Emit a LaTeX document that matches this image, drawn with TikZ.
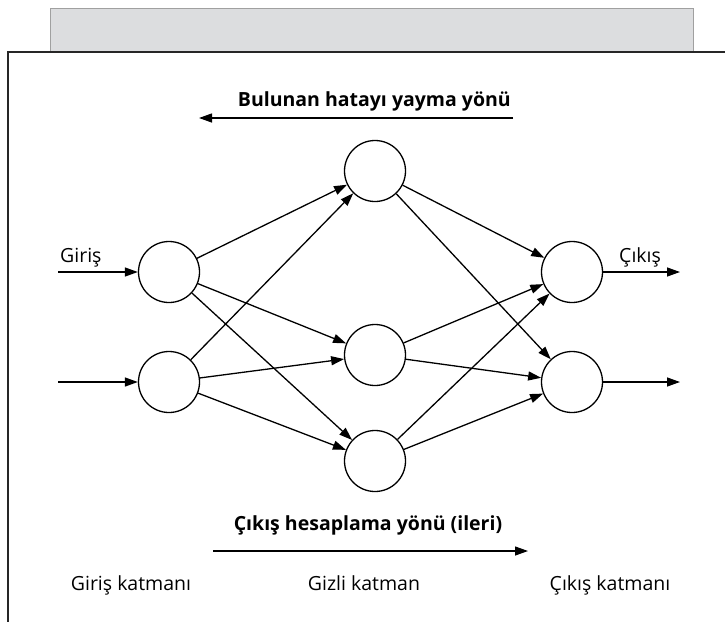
\documentclass[tikz,border=0pt]{standalone}
\usepackage{fontspec}
\setmainfont{Open Sans}
\usetikzlibrary{arrows.meta}
\begin{document}
\begin{tikzpicture}[x=1pt,y=-1pt,
  neuron/.style={circle,draw,line width=1.3pt,minimum size=61pt,inner sep=0pt},
  conn/.style={line width=1.3pt,-{Triangle[length=13pt,width=9pt]}},
  lbl/.style={font=\fontsize{19.5}{23}\selectfont,inner sep=0pt},
  blbl/.style={font=\fontsize{19.5}{23}\selectfont\bfseries,inner sep=0pt}]
\useasboundingbox (0,0) rectangle (725,621);
% header box
\draw[fill={rgb,255:red,220;green,221;blue,223},draw={rgb,255:red,160;green,160;blue,160},line width=0.8pt] (50,52) rectangle (693,8);
% frame
\coordinate (fbl) at (8,625);
\coordinate (ftl) at (8,52);
\coordinate (ftr) at (730,52);
\draw[line width=1.8pt,black!85] (fbl) -- (ftl) -- (ftr);
% neurons
\node[neuron] (i1) at (169,272) {};
\node[neuron] (i2) at (169,382) {};
\node[neuron] (h1) at (375,171) {};
\node[neuron] (h2) at (375,355) {};
\node[neuron] (h3) at (375,461) {};
\node[neuron] (o1) at (572,272) {};
\node[neuron] (o2) at (572,382) {};
% connections
\foreach \a in {i1,i2}{\foreach \b in {h1,h2,h3}{\draw[conn] (\a) -- (\b);}}
\foreach \a in {h1,h2,h3}{\foreach \b in {o1,o2}{\draw[conn] (\a) -- (\b);}}
% inputs / outputs
\coordinate (in1) at (58,272);
\coordinate (in2) at (58,382);
\coordinate (out1) at (680,272);
\coordinate (out2) at (680,382);
\draw[conn] (in1) -- (i1);
\draw[conn] (in2) -- (i2);
\draw[conn] (o1) -- (out1);
\draw[conn] (o2) -- (out2);
\node[lbl,anchor=base west] (giris) at (60,262) {Giriş};
\node[lbl,anchor=base west] (cikis) at (619,262) {Çıkış};
% direction arrows
\node[blbl,anchor=base east] (back) at (511,106) {Bulunan hatayı yayma yönü};
\coordinate (b1) at (513,118);
\coordinate (b2) at (199,118);
\draw[conn] (b1) -- (b2);
\node[blbl,anchor=base] (fwd) at (368,530) {Çıkış hesaplama yönü (ileri)};
\coordinate (f1) at (213,551);
\coordinate (f2) at (528,551);
\draw[conn] (f1) -- (f2);
% layer labels
\node[lbl,anchor=base] (l1) at (131,590) {Giriş katmanı};
\node[lbl,anchor=base] (l2) at (364,590) {Gizli katman};
\node[lbl,anchor=base] (l3) at (610,590) {Çıkış katmanı};
\end{tikzpicture}
\end{document}
